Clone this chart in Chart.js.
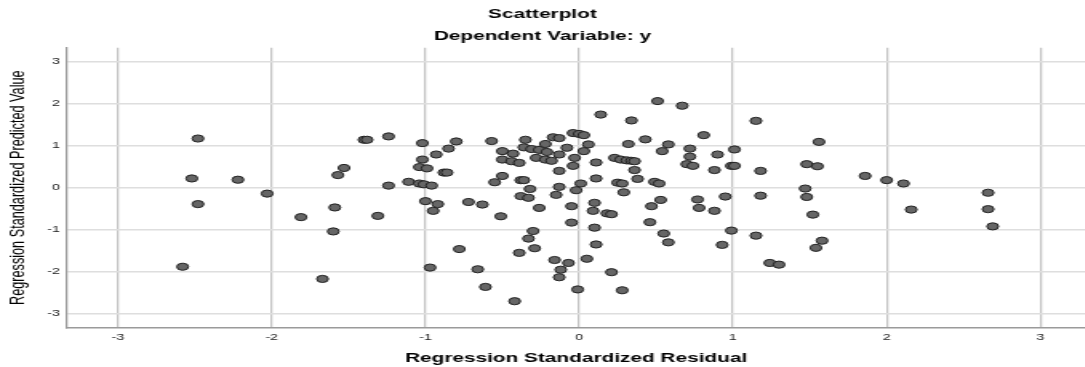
<!DOCTYPE html>
<html>
<head>
<meta charset="utf-8">
<script src="https://cdn.jsdelivr.net/npm/chart.js@4/dist/chart.umd.min.js"></script>
<style>
  html, body { margin: 0; padding: 0; background: #ffffff; overflow: hidden; }
  #wrap { position: absolute; left: 0; top: 0; width: 678.125px; height: 367px;
          transform: scaleX(1.6); transform-origin: 0 0; }
</style>
</head>
<body>
<div id="wrap"><canvas id="c"></canvas></div>
<script>
// Regression standardized residual (x) and standardized predicted value (y)
const residuals = [
  -2.48, -2.52, -2.22, -2.03, -2.48, -2.58, -1.81, -1.59, -1.60, -1.67,
  -1.57, -1.53, -1.40, -1.38, -1.24, -1.02, -0.80, -0.85, -0.93, -1.02,
  -1.04, -0.99, -0.88, -0.86, -1.24, -1.11, -1.04, -1.01, -0.96, -0.57,
  -0.50, -0.43, -0.50, -0.44, -0.39, -0.35, -0.36, -0.31, -0.26, -0.22,
  -0.21, -0.28, -0.22, -0.18, -0.17, -0.13, -0.13, -0.08, -0.04, 0.00,
  0.03, 0.06, 0.03, -0.03, -0.04, -0.13, -0.50, -0.55, -0.38, -0.36,
  -0.32, -0.13, 0.01, -0.02, 0.11, 0.11, 0.14, -1.00, -0.92, -0.95,
  -1.31, -0.72, -0.63, -0.51, -0.38, -0.33, -0.26, -0.15, -0.05, -0.05,
  0.09, 0.10, 0.10, 0.11, -0.30, -0.33, -0.29, -0.39, -0.78, -0.97,
  -0.66, -0.61, -0.42, -0.16, -0.07, -0.12, -0.13, 0.05, -0.01,
  1.56, 1.48, 1.55, 1.86, 2.00, 2.11, 1.47, 1.48, 1.52, 2.16,
  2.66, 2.66, 2.69, 1.58, 1.54, 0.51, 0.67, 0.34, 1.15, 0.81,
  0.32, 0.43, 0.58, 0.72, 1.01, 0.54, 0.90, 0.72, 0.23, 0.27,
  0.31, 0.34, 0.36, 0.70, 0.74, 0.99, 1.01, 0.36, 0.88, 1.18,
  0.38, 0.25, 0.28, 0.49, 0.52, 0.29, 1.18, 0.53, 0.77, 0.95,
  0.47, 0.78, 0.88, 0.18, 0.21, 0.46, 0.55, 0.58, 0.99, 0.93,
  1.15, 0.21, 0.28, 1.24, 1.30
];
const predicted = [
  1.17, 0.22, 0.19, -0.14, -0.39, -1.88, -0.70, -0.47, -1.04, -2.17,
  0.30, 0.47, 1.14, 1.14, 1.22, 1.06, 1.10, 0.93, 0.79, 0.67,
  0.49, 0.46, 0.36, 0.36, 0.05, 0.14, 0.10, 0.08, 0.05, 1.11,
  0.87, 0.81, 0.67, 0.63, 0.59, 1.14, 0.96, 0.92, 0.90, 1.04,
  0.85, 0.71, 0.67, 0.64, 1.20, 1.18, 0.79, 0.95, 1.30, 1.28,
  1.25, 1.03, 0.87, 0.71, 0.52, 0.40, 0.28, 0.13, 0.18, 0.18,
  -0.03, 0.02, 0.10, -0.06, 0.60, 0.22, 1.74, -0.32, -0.39, -0.55,
  -0.67, -0.34, -0.40, -0.68, -0.20, -0.24, -0.48, -0.17, -0.44, -0.83,
  -0.55, -0.36, -0.95, -1.35, -1.03, -1.21, -1.44, -1.55, -1.46, -1.90,
  -1.94, -2.36, -2.70, -1.72, -1.79, -1.95, -2.13, -1.69, -2.42,
  1.09, 0.56, 0.51, 0.28, 0.18, 0.10, -0.02, -0.22, -0.64, -0.52,
  -0.12, -0.51, -0.92, -1.26, -1.43, 2.06, 1.95, 1.60, 1.59, 1.25,
  1.04, 1.15, 1.03, 0.93, 0.91, 0.87, 0.79, 0.74, 0.71, 0.67,
  0.65, 0.64, 0.63, 0.56, 0.52, 0.52, 0.52, 0.42, 0.42, 0.40,
  0.21, 0.12, 0.10, 0.14, 0.10, -0.11, -0.19, -0.29, -0.28, -0.21,
  -0.44, -0.48, -0.55, -0.61, -0.63, -0.82, -1.09, -1.30, -1.02, -1.36,
  -1.14, -2.01, -2.44, -1.79, -1.83
];
const xTickValues = [-3, -2, -1, 0, 1, 2, 3];
const yTickValues = [-3, -2, -1, 0, 1, 2, 3];
const titleLines = ['Scatterplot', 'Dependent Variable: y'];
const xTitle = 'Regression Standardized Residual';
const yTitle = 'Regression Standardized Predicted Value';

const points = residuals.map((x, i) => ({ x: x, y: predicted[i] }));
const FONT = "'Liberation Sans', Arial, sans-serif";

new Chart(document.getElementById('c'), {
  type: 'scatter',
  data: {
    datasets: [{
      data: points,
      pointRadius: 3.6,
      pointHoverRadius: 3.6,
      pointBackgroundColor: '#666666',
      pointBorderColor: '#222222',
      pointBorderWidth: 1
    }]
  },
  options: {
    responsive: true,
    maintainAspectRatio: false,
    animation: false,
    events: [],
    layout: { padding: 0, autoPadding: false },
    plugins: {
      legend: { display: false },
      tooltip: { enabled: false },
      title: {
        display: true,
        text: titleLines,
        color: '#000000',
        font: { family: FONT, size: 13, weight: 'bold', lineHeight: 1.72 },
        padding: { top: 3, bottom: 0 }
      }
    },
    scales: {
      x: {
        type: 'linear',
        min: -3.33,
        max: 3.29,
        afterFit: s => { s.height = 39.3; },
        afterBuildTicks: s => { s.ticks = xTickValues.map(v => ({ value: v })); },
        grid: { color: '#c4c4c4', lineWidth: 1.25, drawTicks: false },
        border: { display: true, color: '#9a9a9a', width: 1.5 },
        ticks: {
          color: '#222222',
          padding: 4.5,
          maxRotation: 0,
          font: { family: FONT, size: 9 },
          callback: v => String(v)
        },
        title: {
          display: true,
          text: xTitle,
          color: '#000000',
          font: { family: FONT, size: 13, weight: 'bold', lineHeight: 1.2 },
          padding: { top: 0, bottom: 0.7 }
        }
      },
      y: {
        type: 'linear',
        min: -3.33,
        max: 3.33,
        afterFit: s => { s.width = 42.1; },
        afterBuildTicks: s => { s.ticks = yTickValues.map(v => ({ value: v })); },
        grid: { color: '#dedede', lineWidth: 1.5, drawTicks: false },
        border: { display: true, color: '#9a9a9a', width: 1.25 },
        ticks: {
          color: '#222222',
          padding: 4.5,
          font: { family: FONT, size: 9 },
          callback: v => String(v)
        },
        title: {
          display: true,
          text: yTitle,
          color: '#000000',
          font: { family: FONT, size: 12.7, weight: 'normal', lineHeight: 1.2 },
          padding: { top: 3.6, bottom: 0 }
        }
      }
    }
  }
});
</script>
</body>
</html>
